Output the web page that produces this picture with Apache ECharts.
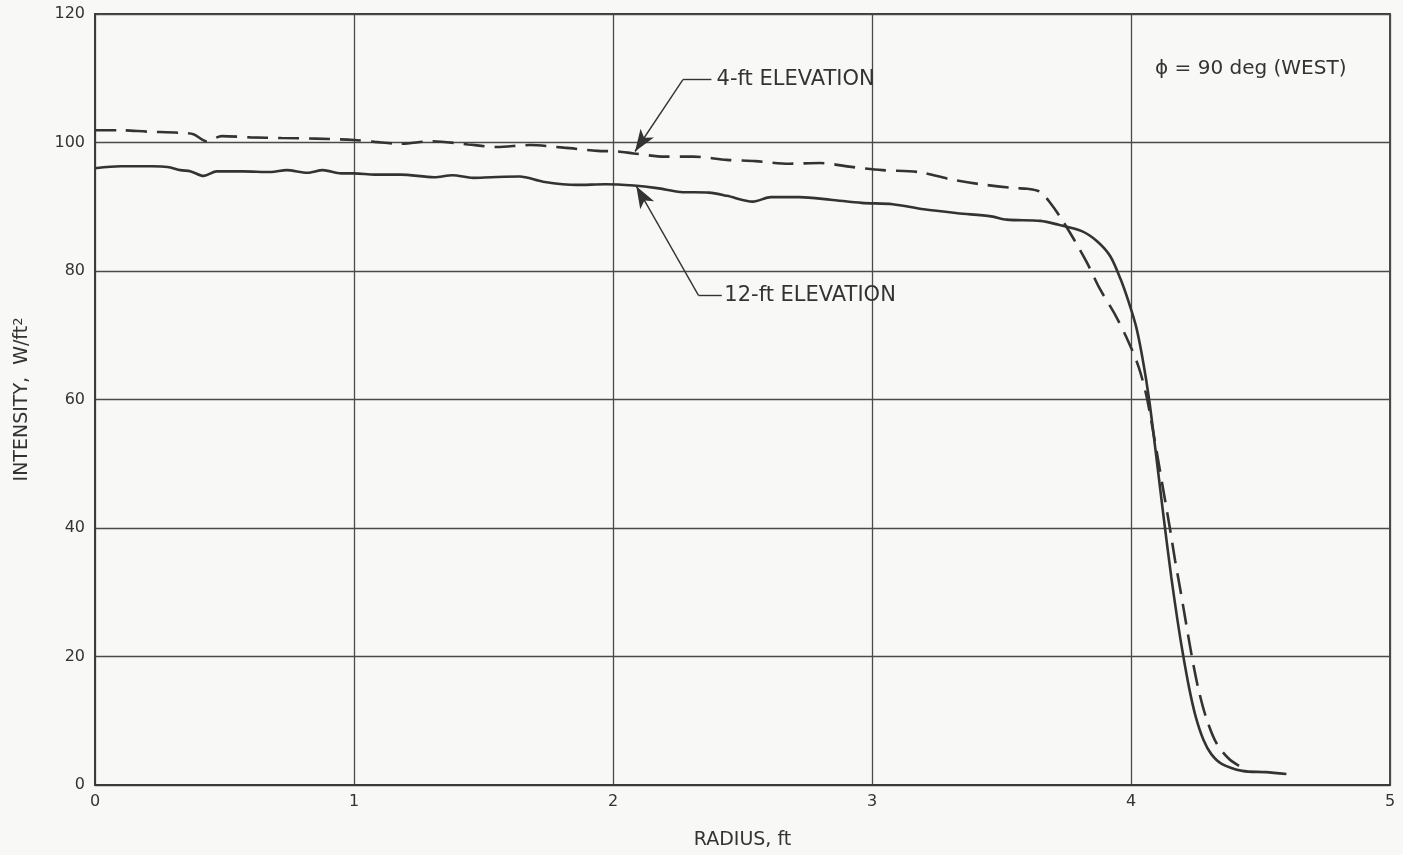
<!DOCTYPE html>
<html>
<head>
<meta charset="utf-8">
<script src="https://cdn.jsdelivr.net/npm/echarts@6/dist/echarts.min.js"></script>
<style>
html,body{margin:0;padding:0;background:#f8f8f6;}
#chart{width:1403px;height:855px;}
</style>
</head>
<body>
<div id="chart"></div>
<script>
// Tick labels
var xTicks = [0, 1, 2, 3, 4, 5];
var yTicks = [0, 20, 40, 60, 80, 100, 120];

// 4-ft elevation (dashed)
var x4ft = [0, 0.1, 0.2, 0.33, 0.38, 0.43, 0.49, 0.6, 0.72, 0.85, 1.0, 1.08, 1.18, 1.3, 1.44, 1.55, 1.68, 1.81, 1.94, 2.02, 2.08, 2.2, 2.31, 2.44, 2.55, 2.68, 2.8, 2.92, 3.04, 3.18, 3.3, 3.42, 3.55, 3.6, 3.65, 3.69, 3.73, 3.78, 3.83, 3.88, 3.94, 3.99, 4.03, 4.06, 4.09, 4.12, 4.15, 4.17, 4.19, 4.21, 4.235, 4.26, 4.29, 4.33, 4.38, 4.43, 4.45];
var y4ft = [101.9, 101.9, 101.7, 101.5, 101.3, 100.2, 101.0, 100.8, 100.7, 100.6, 100.4, 100.1, 99.8, 100.2, 99.7, 99.3, 99.6, 99.2, 98.7, 98.6, 98.3, 97.8, 97.8, 97.3, 97.1, 96.7, 96.8, 96.2, 95.7, 95.4, 94.3, 93.5, 92.9, 92.8, 92.3, 90.5, 88.2, 84.9, 81.3, 77.2, 73.1, 69.0, 65.0, 60.5, 54.0, 47.0, 40.0, 35.0, 30.5, 25.8, 20.0, 15.0, 10.5, 6.5, 4.0, 2.7, 2.4];

// 12-ft elevation (solid)
var x12ft = [0, 0.1, 0.22, 0.28, 0.33, 0.37, 0.42, 0.47, 0.57, 0.68, 0.74, 0.82, 0.88, 0.95, 1.0, 1.08, 1.18, 1.31, 1.38, 1.46, 1.53, 1.64, 1.73, 1.86, 1.97, 2.08, 2.17, 2.26, 2.37, 2.44, 2.54, 2.61, 2.72, 2.84, 2.96, 3.08, 3.2, 3.33, 3.46, 3.52, 3.65, 3.72, 3.81, 3.87, 3.92, 3.96, 3.99, 4.02, 4.045, 4.07, 4.095, 4.125, 4.155, 4.18, 4.2, 4.225, 4.25, 4.28, 4.31, 4.35, 4.43, 4.52, 4.6];
var y12ft = [96.0, 96.3, 96.3, 96.2, 95.7, 95.5, 94.8, 95.5, 95.5, 95.4, 95.7, 95.3, 95.7, 95.2, 95.2, 95.0, 95.0, 94.6, 94.9, 94.5, 94.6, 94.7, 93.9, 93.4, 93.5, 93.3, 92.9, 92.3, 92.2, 91.7, 90.8, 91.5, 91.5, 91.1, 90.6, 90.4, 89.6, 89.0, 88.5, 88.0, 87.8, 87.2, 86.2, 84.6, 82.3, 78.7, 75.3, 71.3, 66.3, 60.0, 52.0, 42.0, 32.5, 25.5, 20.5, 15.0, 10.6, 7.0, 4.8, 3.3, 2.2, 2.0, 1.7];

// Annotation anchors (data coordinates)
var label4ft = [2.40, 109.8];
var leader4ft = [[2.38, 109.8], [2.27, 109.8], [2.085, 98.6]];
var label12ft = [2.43, 76.2];
var leader12ft = [[2.42, 76.2], [2.33, 76.2], [2.09, 93.2]];

function pairs(xs, ys) { return xs.map(function (x, i) { return [x, ys[i]]; }); }

var ink = '#333333';
var font = 'DejaVu Sans';

var chart = echarts.init(document.getElementById('chart'), null, { renderer: 'canvas' });
chart.setOption({
  backgroundColor: '#f8f8f6',
  animation: false,
  grid: { left: 95, right: 13, top: 14, bottom: 63, show: true, borderColor: '#3a3a3a', borderWidth: 1.8, backgroundColor: 'transparent' },
  xAxis: {
    type: 'value', min: xTicks[0], max: xTicks[xTicks.length - 1], interval: 1,
    name: 'RADIUS, ft', nameLocation: 'middle', nameGap: 46,
    nameTextStyle: { fontFamily: font, fontSize: 19, color: ink },
    axisLine: { show: true, lineStyle: { color: '#3a3a3a', width: 1.8 } },
    axisTick: { show: false },
    axisLabel: { fontFamily: font, fontSize: 16, color: ink, margin: 9 },
    splitLine: { show: true, lineStyle: { color: '#4a4a4a', width: 1.3 } }
  },
  yAxis: {
    type: 'value', min: yTicks[0], max: yTicks[yTicks.length - 1], interval: 20,
    name: 'INTENSITY,  W/ft{sup|2}', nameLocation: 'middle', nameGap: 62, nameRotate: 90,
    nameTextStyle: { fontFamily: font, fontSize: 19, color: ink, rich: { sup: { fontFamily: font, fontSize: 13, color: ink, verticalAlign: 'top', padding: [0, 0, 8, 0] } } },
    axisLine: { show: true, lineStyle: { color: '#3a3a3a', width: 1.8 } },
    axisTick: { show: false },
    axisLabel: { fontFamily: font, fontSize: 16, color: ink, margin: 10 },
    splitLine: { show: true, lineStyle: { color: '#4a4a4a', width: 1.3 } }
  },
  series: [
    {
      name: '4-ft ELEVATION', type: 'line', data: pairs(x4ft, y4ft), showSymbol: false, smooth: 0.3,
      lineStyle: { color: ink, width: 2.6, type: [21, 10] },
      markLine: {
        silent: true, animation: false, label: { show: false },
        lineStyle: { color: ink, width: 1.4, type: 'solid' },
        data: [
          [{ coord: leader4ft[0], symbol: 'none' }, { coord: leader4ft[1], symbol: 'none' }],
          [{ coord: leader4ft[1], symbol: 'none' }, { coord: leader4ft[2], symbol: 'arrow', symbolSize: [12, 22] }]
        ]
      },
      markPoint: {
        silent: true, symbol: 'circle', symbolSize: 0,
        label: { show: true, position: 'right', distance: 0, fontFamily: font, fontSize: 21, color: ink, formatter: '4-ft ELEVATION' },
        data: [{ coord: label4ft }]
      }
    },
    {
      name: '12-ft ELEVATION', type: 'line', data: pairs(x12ft, y12ft), showSymbol: false, smooth: 0.3,
      lineStyle: { color: ink, width: 2.6 },
      markLine: {
        silent: true, animation: false, label: { show: false },
        lineStyle: { color: ink, width: 1.4, type: 'solid' },
        data: [
          [{ coord: leader12ft[0], symbol: 'none' }, { coord: leader12ft[1], symbol: 'none' }],
          [{ coord: leader12ft[1], symbol: 'none' }, { coord: leader12ft[2], symbol: 'arrow', symbolSize: [12, 22] }]
        ]
      },
      markPoint: {
        silent: true, symbol: 'circle', symbolSize: 0,
        label: { show: true, position: 'right', distance: 0, fontFamily: font, fontSize: 21, color: ink, formatter: '12-ft ELEVATION' },
        data: [{ coord: label12ft }]
      }
    }
  ],
  graphic: [
    { type: 'text', left: 1155, top: 59, style: { text: 'ϕ = 90 deg (WEST)', font: '20px "DejaVu Sans"', fill: ink } }
  ]
});
</script>
</body>
</html>
